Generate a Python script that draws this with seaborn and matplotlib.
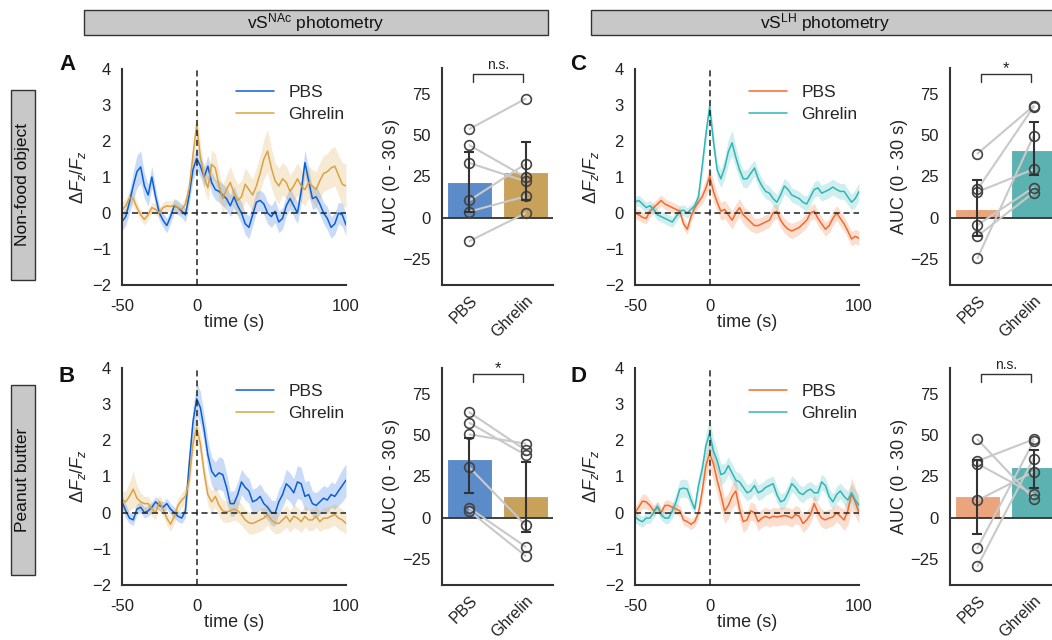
import numpy as np
import pandas as pd
import matplotlib.pyplot as plt
import seaborn as sns
from matplotlib.patches import Rectangle

# time grid of the photometry traces (s)
t = np.arange(-50, 100.1, 2.5)

# ---- vS-NAc, non-food object (A)
a_pbs = [-0.24, -0.10, 0.30, 0.75, 1.15, 1.28, 0.75, 0.50, 1.00, 0.45,
         0.00, -0.20, -0.35, -0.10, 0.20, 0.15, 0.05, -0.05, 0.50, 1.20,
         1.52, 1.30, 1.00, 1.30, 0.85, 0.65, 0.60, 0.50, 0.40, 0.20,
         0.45, 0.20, 0.00, -0.30, -0.40, -0.05, 0.30, 0.35, 0.25, 0.00,
         -0.10, 0.05, -0.25, -0.15, 0.20, 0.40, 0.20, 0.00, 0.60, 1.40,
         0.90, 0.40, 0.45, 0.25, 0.00, -0.15, -0.40, -0.30, 0.00, -0.05,
         -0.33]
a_pbs_sem = [0.25, 0.25, 0.30, 0.40, 0.45, 0.45, 0.35, 0.30, 0.30, 0.25,
             0.20, 0.20, 0.20, 0.18, 0.20, 0.20, 0.18, 0.20, 0.25, 0.30,
             0.30, 0.30, 0.28, 0.30, 0.30, 0.28, 0.30, 0.30, 0.32, 0.30,
             0.30, 0.28, 0.30, 0.30, 0.32, 0.30, 0.30, 0.28, 0.30, 0.30,
             0.30, 0.32, 0.30, 0.30, 0.28, 0.30, 0.30, 0.30, 0.32, 0.35,
             0.35, 0.30, 0.30, 0.30, 0.30, 0.32, 0.30, 0.30, 0.30, 0.32,
             0.30]
a_ghr = [0.08, 0.20, 0.42, 0.40, 0.15, -0.05, -0.18, -0.05, 0.15, 0.10,
         0.00, 0.15, 0.20, 0.18, 0.22, 0.15, 0.10, 0.25, 0.70, 1.60,
         2.45, 1.55, 1.00, 0.70, 1.35, 1.25, 0.75, 0.40, 0.65, 0.85,
         0.55, 0.35, 0.45, 0.80, 0.65, 0.50, 0.75, 1.10, 1.50, 1.72,
         1.25, 0.90, 0.75, 0.95, 0.85, 0.60, 0.75, 0.95, 0.75, 0.65,
         0.85, 0.75, 0.65, 0.90, 1.10, 1.15, 1.25, 1.30, 1.05, 0.80,
         0.75]
a_ghr_sem = [0.20, 0.20, 0.20, 0.20, 0.15, 0.15, 0.15, 0.15, 0.15, 0.15,
             0.15, 0.15, 0.15, 0.15, 0.15, 0.15, 0.15, 0.20, 0.25, 0.30,
             0.35, 0.35, 0.35, 0.35, 0.40, 0.40, 0.40, 0.40, 0.40, 0.45,
             0.45, 0.45, 0.45, 0.45, 0.45, 0.45, 0.50, 0.50, 0.55, 0.60,
             0.55, 0.50, 0.50, 0.45, 0.45, 0.45, 0.45, 0.45, 0.45, 0.45,
             0.45, 0.45, 0.50, 0.50, 0.50, 0.50, 0.55, 0.55, 0.55, 0.60,
             0.60]

# ---- vS-NAc, peanut butter (B)
b_pbs = [0.30, 0.05, -0.15, -0.20, 0.10, 0.15, 0.00, 0.05, 0.15, 0.30,
         0.20, 0.15, 0.25, 0.10, 0.00, -0.10, -0.15, 0.05, 1.35, 2.50,
         3.15, 2.90, 2.30, 1.60, 1.15, 1.00, 1.10, 1.05, 0.70, 0.25,
         0.25, 0.50, 0.85, 0.70, 0.60, 0.30, 0.35, 0.45, 0.25, 0.15,
         0.00, -0.02, 0.30, 0.50, 0.80, 0.70, 0.55, 0.85, 0.80, 0.45,
         0.50, 0.25, 0.20, 0.30, 0.40, 0.35, 0.50, 0.45, 0.60, 0.75,
         0.90]
b_pbs_sem = [0.20, 0.20, 0.15, 0.15, 0.15, 0.15, 0.15, 0.15, 0.15, 0.15,
             0.15, 0.15, 0.15, 0.15, 0.15, 0.15, 0.15, 0.20, 0.30, 0.40,
             0.45, 0.45, 0.40, 0.40, 0.40, 0.40, 0.45, 0.45, 0.40, 0.35,
             0.35, 0.35, 0.35, 0.35, 0.35, 0.35, 0.35, 0.35, 0.35, 0.35,
             0.35, 0.35, 0.35, 0.35, 0.40, 0.40, 0.40, 0.45, 0.45, 0.40,
             0.40, 0.35, 0.35, 0.35, 0.35, 0.35, 0.35, 0.35, 0.40, 0.45,
             0.45]
b_ghr = [0.35, 0.30, 0.45, 0.65, 0.40, 0.30, 0.25, 0.25, 0.10, 0.00,
         0.30, 0.10, -0.15, -0.32, -0.10, 0.20, 0.35, 0.45, 0.90, 1.90,
         2.35, 1.90, 1.10, 0.50, 0.30, 0.45, 0.20, 0.05, 0.02, 0.05,
         0.10, 0.05, -0.05, -0.20, -0.28, -0.30, -0.25, -0.20, -0.15, -0.05,
         -0.20, -0.28, -0.30, -0.20, -0.10, -0.25, -0.10, -0.15, -0.25, -0.10,
         -0.20, -0.20, -0.10, -0.25, -0.15, -0.15, -0.10, -0.05, -0.15, -0.20,
         -0.30]
b_ghr_sem = [0.25, 0.30, 0.40, 0.50, 0.35, 0.25, 0.20, 0.20, 0.20, 0.20,
             0.20, 0.20, 0.20, 0.20, 0.20, 0.20, 0.20, 0.25, 0.30, 0.35,
             0.35, 0.35, 0.30, 0.30, 0.30, 0.30, 0.30, 0.30, 0.30, 0.30,
             0.30, 0.30, 0.30, 0.28, 0.30, 0.30, 0.30, 0.32, 0.30, 0.30,
             0.30, 0.30, 0.28, 0.30, 0.30, 0.30, 0.32, 0.30, 0.30, 0.30,
             0.30, 0.30, 0.30, 0.28, 0.30, 0.30, 0.30, 0.30, 0.32, 0.30,
             0.30]

# ---- vS-LH, non-food object (C)
c_pbs = [0.00, -0.05, -0.12, -0.15, 0.05, 0.15, 0.25, 0.35, 0.25, 0.20,
         0.15, 0.10, 0.05, -0.30, -0.45, -0.10, 0.15, 0.30, 0.45, 0.70,
         1.02, 0.60, 0.30, 0.05, 0.10, -0.05, -0.20, 0.00, 0.15, -0.05,
         -0.15, -0.25, -0.35, -0.35, -0.30, -0.25, -0.20, 0.00, 0.05, -0.20,
         -0.35, -0.45, -0.50, -0.45, -0.40, -0.30, -0.20, 0.00, 0.05, -0.15,
         -0.30, -0.45, -0.35, -0.15, 0.00, -0.15, -0.30, -0.50, -0.72, -0.65,
         -0.70]
c_pbs_sem = [0.15, 0.15, 0.15, 0.15, 0.15, 0.15, 0.15, 0.15, 0.15, 0.15,
             0.15, 0.15, 0.15, 0.15, 0.15, 0.15, 0.15, 0.15, 0.20, 0.25,
             0.30, 0.30, 0.25, 0.25, 0.25, 0.25, 0.25, 0.25, 0.25, 0.25,
             0.25, 0.25, 0.20, 0.20, 0.20, 0.20, 0.20, 0.22, 0.20, 0.20,
             0.20, 0.20, 0.22, 0.20, 0.20, 0.20, 0.20, 0.20, 0.22, 0.20,
             0.20, 0.20, 0.20, 0.20, 0.20, 0.22, 0.20, 0.20, 0.20, 0.20,
             0.20]
c_ghr = [0.30, 0.35, 0.25, 0.15, 0.20, 0.10, -0.05, -0.10, -0.15, -0.20,
         -0.25, -0.10, 0.05, 0.08, 0.00, 0.10, 0.20, 0.45, 1.30, 2.20,
         2.95, 2.00, 1.20, 0.95, 1.25, 1.70, 1.95, 1.55, 1.20, 0.95,
         0.95, 1.10, 1.25, 0.95, 0.75, 0.60, 0.55, 0.40, 0.30, 0.50,
         0.75, 0.65, 0.50, 0.45, 0.40, 0.30, 0.25, 0.45, 0.65, 0.70,
         0.55, 0.60, 0.65, 0.72, 0.65, 0.60, 0.60, 0.45, 0.30, 0.40,
         0.60]
c_ghr_sem = [0.15, 0.15, 0.15, 0.15, 0.15, 0.15, 0.15, 0.15, 0.15, 0.15,
             0.15, 0.15, 0.15, 0.15, 0.15, 0.15, 0.15, 0.20, 0.25, 0.30,
             0.35, 0.30, 0.25, 0.25, 0.30, 0.35, 0.35, 0.30, 0.25, 0.25,
             0.25, 0.25, 0.22, 0.22, 0.22, 0.20, 0.20, 0.20, 0.22, 0.22,
             0.22, 0.22, 0.20, 0.20, 0.20, 0.20, 0.22, 0.22, 0.22, 0.22,
             0.22, 0.22, 0.22, 0.22, 0.22, 0.22, 0.22, 0.22, 0.22, 0.25,
             0.25]

# ---- vS-LH, peanut butter (D)
d_pbs = [0.00, 0.15, 0.32, 0.30, 0.20, 0.05, 0.15, 0.00, 0.20, 0.20,
         0.15, 0.10, 0.05, -0.20, -0.25, -0.32, -0.25, 0.00, 0.60, 1.30,
         1.64, 1.35, 0.90, 0.50, 0.05, 0.20, 0.45, 0.60, 0.10, -0.25,
         -0.20, 0.05, 0.00, -0.25, -0.15, -0.10, -0.15, -0.10, -0.12, -0.10,
         -0.08, -0.10, -0.15, -0.05, -0.10, -0.30, -0.20, -0.05, 0.25, 0.00,
         -0.15, -0.20, -0.15, -0.12, 0.00, -0.10, -0.20, 0.05, 0.52, 0.30,
         0.00]
d_pbs_sem = [0.15, 0.20, 0.20, 0.20, 0.15, 0.15, 0.15, 0.15, 0.15, 0.15,
             0.15, 0.15, 0.15, 0.15, 0.15, 0.15, 0.15, 0.15, 0.25, 0.35,
             0.40, 0.45, 0.40, 0.40, 0.35, 0.35, 0.35, 0.35, 0.30, 0.30,
             0.25, 0.25, 0.25, 0.25, 0.25, 0.25, 0.25, 0.25, 0.25, 0.25,
             0.25, 0.25, 0.25, 0.25, 0.25, 0.25, 0.25, 0.25, 0.25, 0.25,
             0.25, 0.25, 0.25, 0.25, 0.25, 0.25, 0.30, 0.40, 0.45, 0.40,
             0.30]
d_ghr = [-0.12, -0.20, -0.25, -0.15, -0.15, 0.00, 0.18, -0.05, -0.15, -0.15,
         0.05, 0.30, 0.65, 0.68, 0.65, 0.35, 0.10, 0.75, 1.20, 1.85,
         2.20, 1.70, 1.45, 1.05, 1.10, 1.30, 1.10, 0.90, 0.85, 0.70,
         0.55, 0.60, 0.75, 0.55, 0.60, 0.70, 0.75, 0.80, 0.50, 0.30,
         0.35, 0.55, 0.80, 0.70, 0.55, 0.50, 0.60, 0.65, 0.55, 0.55,
         0.85, 0.75, 0.45, 0.30, 0.50, 0.60, 0.45, 0.35, 0.55, 0.35,
         0.20]
d_ghr_sem = [0.15, 0.15, 0.15, 0.15, 0.15, 0.15, 0.15, 0.15, 0.15, 0.15,
             0.20, 0.25, 0.25, 0.25, 0.25, 0.20, 0.15, 0.25, 0.30, 0.35,
             0.40, 0.35, 0.30, 0.30, 0.25, 0.25, 0.25, 0.25, 0.25, 0.25,
             0.22, 0.22, 0.22, 0.22, 0.22, 0.22, 0.22, 0.22, 0.22, 0.22,
             0.22, 0.22, 0.22, 0.22, 0.22, 0.22, 0.22, 0.22, 0.22, 0.22,
             0.22, 0.22, 0.22, 0.22, 0.22, 0.22, 0.25, 0.25, 0.25, 0.28,
             0.30]

# ---- AUC (0 - 30 s), paired per animal
conds = ['PBS', 'Ghrelin']
auc_a_pbs = [53.9, 44.0, 33.2, 10.5, 3.7, -14.3]
auc_a_ghr = [72.3, 24.6, 22.1, 32.6, 12.9, 2.7]
auc_b_pbs = [64.0, 57.6, 50.6, 30.5, 5.8, 4.0]
auc_b_ghr = [41.1, 38.1, 45.0, -4.6, -17.7, -23.3]
auc_c_pbs = [38.9, 17.2, 15.6, -4.5, -11.2, -24.7]
auc_c_ghr = [67.9, 67.3, 29.4, 18.3, 15.2, 49.7]
auc_d_pbs = [47.6, 34.4, 32.8, 10.5, -18.5, -29.6]
auc_d_ghr = [11.5, 47.6, 14.2, 27.8, 46.3, 35.9]
# 95% CI limits (low, high) for PBS and Ghrelin
ci_a = [(3.5, 40.0), (10.5, 46.2)]
ci_b = [(14.8, 48.2), (-9.0, 34.1)]
ci_c = [(-11.2, 22.9), (25.8, 58.2)]
ci_d = [(-10.2, 35.3), (18.2, 41.3)]
sig = ['n.s.', '*', '*', 'n.s.']

sns.set_theme(style='white')
plt.rcParams['font.family'] = ['Liberation Sans', 'DejaVu Sans']
plt.rcParams['mathtext.fontset'] = 'custom'
plt.rcParams['mathtext.rm'] = 'Liberation Sans'
plt.rcParams['mathtext.it'] = 'Liberation Sans:italic'
plt.rcParams['mathtext.bf'] = 'Liberation Sans:bold'

nac_line = ['#0b5fd6', '#dba243']
nac_bar = ['#5b8bc9', '#c8a15b']
lh_line = ['#f26b2c', '#2fb6b6']
lh_bar = ['#eba57d', '#5cb1b1']
ink = '#333333'


def style_ax(ax):
    sns.despine(ax=ax)
    for s in ['left', 'bottom']:
        ax.spines[s].set_color(ink)
        ax.spines[s].set_linewidth(1.5)
    ax.tick_params(axis='both', length=0, labelsize=12, colors='#222222')
    ax.tick_params(axis='x', pad=10)
    ax.tick_params(axis='y', pad=8)


def trace_panel(ax, pbs, pbs_sem, ghr, ghr_sem, cols):
    for vals, sem, c, lab in [(pbs, pbs_sem, cols[0], conds[0]),
                              (ghr, ghr_sem, cols[1], conds[1])]:
        v = np.array(vals)
        s = np.array(sem)
        ax.fill_between(t, v - s, v + s, color=c, alpha=0.22, lw=0)
        sns.lineplot(x=t, y=v, color=c, lw=1.1, label=lab, ax=ax)
    ax.axvline(0, color='#222222', ls=(0, (4, 2.5)), lw=1.1, zorder=4)
    ax.axhline(0, color='#222222', ls=(0, (4, 2.5)), lw=1.1, zorder=4)
    ax.set_xlim(-50, 100)
    ax.set_ylim(-2, 4)
    ax.set_xticks([-50, 0, 100])
    ax.set_xticklabels(['-50', '0', '100'])
    ax.set_yticks(range(-2, 5))
    ax.set_xlabel('time (s)', fontsize=13, labelpad=0)
    ax.set_ylabel(r'$\Delta F_z/F_z$', fontsize=13, labelpad=3)
    ax.legend(loc='upper left', bbox_to_anchor=(0.44, 1.0), frameon=False,
              fontsize=12.5, handlelength=2.2, handletextpad=0.8,
              labelspacing=0.4)
    style_ax(ax)


def auc_panel(ax, pbs, ghr, ci, cols, label):
    df = pd.DataFrame({'cond': [conds[0]] * len(pbs) + [conds[1]] * len(ghr),
                       'auc': pbs + ghr})
    sns.barplot(data=df, x='cond', y='auc', hue='cond', order=conds,
                palette=dict(zip(conds, cols)), errorbar=None, saturation=1,
                width=0.8, edgecolor='white', linewidth=0.8, legend=False,
                ax=ax)
    ax.axhline(0, color=ink, lw=1.3, zorder=2)
    for p, g in zip(pbs, ghr):
        ax.plot([0, 1], [p, g], color='#c9c9c9', lw=1.5, zorder=3)
    for i, vals in enumerate([pbs, ghr]):
        ax.plot([i] * len(vals), vals, 'o', mfc='none', mec='#444444',
                ms=7, mew=1.2, zorder=5)
    means = df.groupby('cond')['auc'].mean().reindex(conds).values
    lo = [means[i] - ci[i][0] for i in range(2)]
    hi = [ci[i][1] - means[i] for i in range(2)]
    ax.errorbar([0, 1], means, yerr=[lo, hi], fmt='none', ecolor=ink,
                elinewidth=1.5, capsize=3.5, capthick=1.5, zorder=6)
    ax.plot([0.07, 0.07, 0.95, 0.95], [82.7, 87.2, 87.2, 82.7], color=ink,
            lw=1, clip_on=False, zorder=6)
    ax.text(0.51, 88.5 if label == 'n.s.' else 86.0, label, ha='center',
            va='bottom', fontsize=10 if label == 'n.s.' else 12,
            color='#222222')
    ax.set_ylim(-41, 91)
    ax.set_yticks([-25, 0, 25, 50, 75])
    ax.set_xlabel('')
    ax.set_ylabel('AUC (0 - 30 s)', fontsize=13, labelpad=2)
    style_ax(ax)
    ax.tick_params(axis='x', pad=6)
    plt.setp(ax.get_xticklabels(), rotation=45, ha='right',
             rotation_mode='anchor', fontsize=11.5)


W, H = 1052, 640
fig = plt.figure(figsize=(W / 100, H / 100), dpi=100)


def px_axes(x0, y0, x1, y1):
    return fig.add_axes([x0 / W, 1 - y1 / H, (x1 - x0) / W, (y1 - y0) / H])


ax_a = px_axes(122, 69, 346, 285)
ax_ab = px_axes(442, 68, 553, 285)
ax_c = px_axes(635, 69, 859, 285)
ax_cb = px_axes(950, 68, 1061, 285)
ax_b = px_axes(122, 368, 346, 585)
ax_bb = px_axes(442, 368, 553, 585)
ax_d = px_axes(635, 368, 859, 585)
ax_db = px_axes(950, 368, 1061, 585)

trace_panel(ax_a, a_pbs, a_pbs_sem, a_ghr, a_ghr_sem, nac_line)
trace_panel(ax_b, b_pbs, b_pbs_sem, b_ghr, b_ghr_sem, nac_line)
trace_panel(ax_c, c_pbs, c_pbs_sem, c_ghr, c_ghr_sem, lh_line)
trace_panel(ax_d, d_pbs, d_pbs_sem, d_ghr, d_ghr_sem, lh_line)

auc_panel(ax_ab, auc_a_pbs, auc_a_ghr, ci_a, nac_bar, sig[0])
auc_panel(ax_bb, auc_b_pbs, auc_b_ghr, ci_b, nac_bar, sig[1])
auc_panel(ax_cb, auc_c_pbs, auc_c_ghr, ci_c, lh_bar, sig[2])
auc_panel(ax_db, auc_d_pbs, auc_d_ghr, ci_d, lh_bar, sig[3])


def px_box(x0, y0, x1, y1, text, rot=0):
    fig.add_artist(Rectangle((x0 / W, 1 - y1 / H), (x1 - x0) / W, (y1 - y0) / H,
                             transform=fig.transFigure, facecolor='#c8c8c8',
                             edgecolor=ink, lw=1))
    fig.text((x0 + x1) / 2 / W, 1 - (y0 + y1) / 2 / H, text, rotation=rot,
             ha='center', va='center', fontsize=12.5, color='#111111')


px_box(84, 10, 548, 35, r'vS$^{\mathrm{NAc}}$ photometry')
px_box(591, 10, 1060, 35, r'vS$^{\mathrm{LH}}$ photometry')
px_box(11, 90, 35, 280, 'Non-food object', rot=90)
px_box(11, 385, 35, 575, 'Peanut butter', rot=90)

for letter, x, y in [('A', 59, 70), ('B', 59, 382), ('C', 570, 70), ('D', 570, 382)]:
    fig.text(x / W, 1 - y / H, letter, fontsize=16, fontweight='bold',
             ha='left', va='baseline', color='#111111')

fig.savefig('out.png', dpi=100)
